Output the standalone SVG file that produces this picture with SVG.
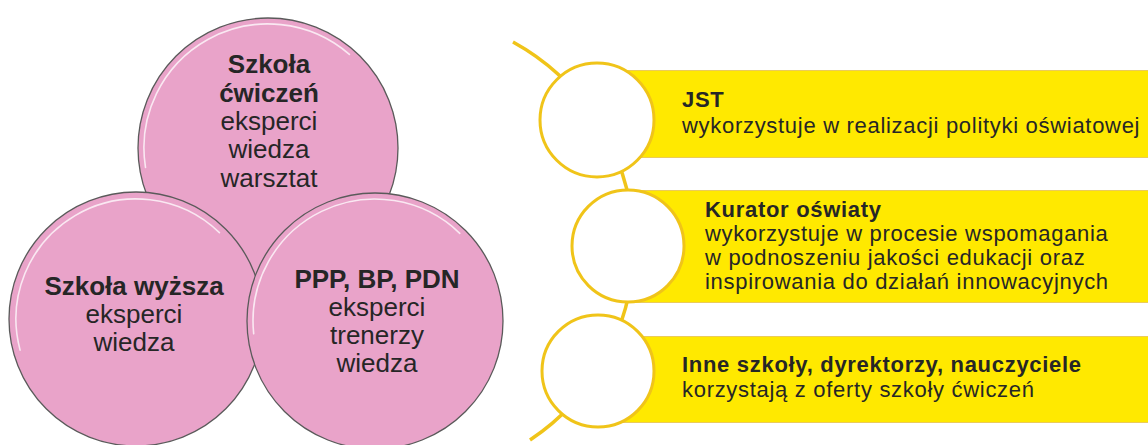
<svg xmlns="http://www.w3.org/2000/svg" width="1148" height="445" viewBox="0 0 1148 445">
<style>
.pink{fill:#E9A3C9;stroke:#5a5a5a;stroke-width:1.3}
.gloss{fill:none;stroke:#ffffff;stroke-opacity:0.75;stroke-width:1.6;stroke-linecap:round}
.ct{font-family:"Liberation Sans",Arial,sans-serif;font-size:26px;fill:#262626;text-anchor:middle}
.b{font-weight:bold}
.band{fill:#FFE900;stroke:#EBCB5A;stroke-width:1}
.ring{fill:#ffffff;stroke:#F0C419;stroke-width:3}
.line{fill:none;stroke:#F0C419;stroke-width:3.5}
.bt{font-family:"Liberation Sans",Arial,sans-serif;font-size:22px;fill:#262626;letter-spacing:0.7px}
</style>
<rect width="1148" height="445" fill="#ffffff"/>
<g id="circle-szkola-cwiczen">
<circle class="pink" cx="268" cy="148" r="130"/>
<path class="gloss" d="M145.5 167.4 A124 124 0 0 1 349.4 54.4"/>
<text class="ct b" x="269" y="73">Szkoła</text>
<text class="ct b" x="269" y="102">ćwiczeń</text>
<text class="ct" x="269" y="130">eksperci</text>
<text class="ct" x="269" y="158">wiedza</text>
<text class="ct" x="269" y="187">warsztat</text>
</g>
<g id="circle-szkola-wyzsza">
<circle class="pink" cx="136" cy="319" r="127"/>
<path class="gloss" d="M20.1 350.1 A120 120 0 0 1 219.4 232.7"/>
<text class="ct b" x="134" y="295">Szkoła wyższa</text>
<text class="ct" x="134" y="323">eksperci</text>
<text class="ct" x="134" y="351">wiedza</text>
</g>
<g id="circle-ppp">
<circle class="pink" cx="375" cy="321" r="128"/>
<path class="gloss" d="M253.7 333.8 A122 122 0 0 1 459.8 233.3"/>
<text class="ct b" x="377" y="288">PPP, BP, PDN</text>
<text class="ct" x="377" y="316">eksperci</text>
<text class="ct" x="377" y="344">trenerzy</text>
<text class="ct" x="377" y="372">wiedza</text>
</g>
<g id="connectors">
<path class="line" d="M513 42 A233 233 0 0 1 530 440"/>
</g>
<g id="item-jst">
<rect class="band" x="597" y="70.5" width="560" height="87"/>
<circle class="ring" cx="597" cy="120" r="57"/>
<text class="bt b" x="682" y="107">JST</text>
<text class="bt" x="682" y="133">wykorzystuje w realizacji polityki oświatowej</text>
</g>
<g id="item-kurator">
<rect class="band" x="628" y="190.5" width="530" height="112"/>
<circle class="ring" cx="628" cy="246" r="56"/>
<text class="bt b" x="705" y="217">Kurator oświaty</text>
<text class="bt" x="705" y="241">wykorzystuje w procesie wspomagania</text>
<text class="bt" x="705" y="265">w podnoszeniu jakości edukacji oraz</text>
<text class="bt" x="705" y="289">inspirowania do działań innowacyjnych</text>
</g>
<g id="item-inne">
<rect class="band" x="598" y="336.5" width="560" height="86"/>
<circle class="ring" cx="598" cy="371" r="56"/>
<text class="bt b" x="682" y="372">Inne szkoły, dyrektorzy, nauczyciele</text>
<text class="bt" x="682" y="397">korzystają z oferty szkoły ćwiczeń</text>
</g>
</svg>
